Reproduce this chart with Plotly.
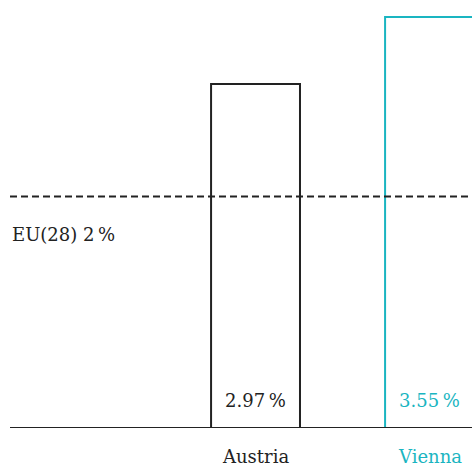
import plotly.graph_objects as go

regions = ["Austria", "Vienna"]
shares = [2.97, 3.55]
colors = ["#222222", "#1ab5c1"]
eu_label = "EU(28)"
eu_value = 2

FONT = "DejaVu Serif"
FS = 18

fig = go.Figure()
fig.add_trace(go.Bar(
    x=[0, 1],
    y=shares,
    width=0.511,
    marker=dict(color="white", line=dict(color=colors, width=2)),
    hoverinfo="skip",
))

# value labels sitting at the foot of each bar, names below the baseline
for i, (v, c) in enumerate(zip(shares, colors)):
    fig.add_annotation(x=i, y=0, text=f"{v:.2f}\u2009%", showarrow=False,
                       yanchor="bottom", yshift=15, font=dict(color=c, size=FS, family=FONT))
    fig.add_annotation(x=i, y=0, text=regions[i], showarrow=False,
                       yanchor="top", yshift=-16, font=dict(color=c, size=FS, family=FONT))

# EU reference line
fig.add_shape(type="line", xref="paper", x0=0, x1=1, y0=eu_value, y1=eu_value,
              line=dict(color="#222222", width=2, dash="7px,4px"))
fig.add_annotation(xref="paper", x=0, y=eu_value, text=f"{eu_label} {eu_value}\u2009%",
                   showarrow=False, xanchor="left", yanchor="top", yshift=-26,
                   font=dict(color="#222222", size=FS, family=FONT))

fig.update_layout(
    width=472, height=466,
    margin=dict(l=10, r=0, t=0, b=38),
    plot_bgcolor="white", paper_bgcolor="white",
    showlegend=False,
    xaxis=dict(range=[-1.411, 1.244], showgrid=False, zeroline=False,
               showticklabels=False, showline=False),
    yaxis=dict(range=[0, 3.696], showgrid=False, zeroline=False,
               showticklabels=False, showline=False),
)
fig.add_shape(type="line", xref="paper", x0=0, x1=1, y0=0, y1=0,
              line=dict(color="#222222", width=2))

fig.write_html("out.html", config={"displayModeBar": False},
               post_script="document.body.style.margin='0';")
